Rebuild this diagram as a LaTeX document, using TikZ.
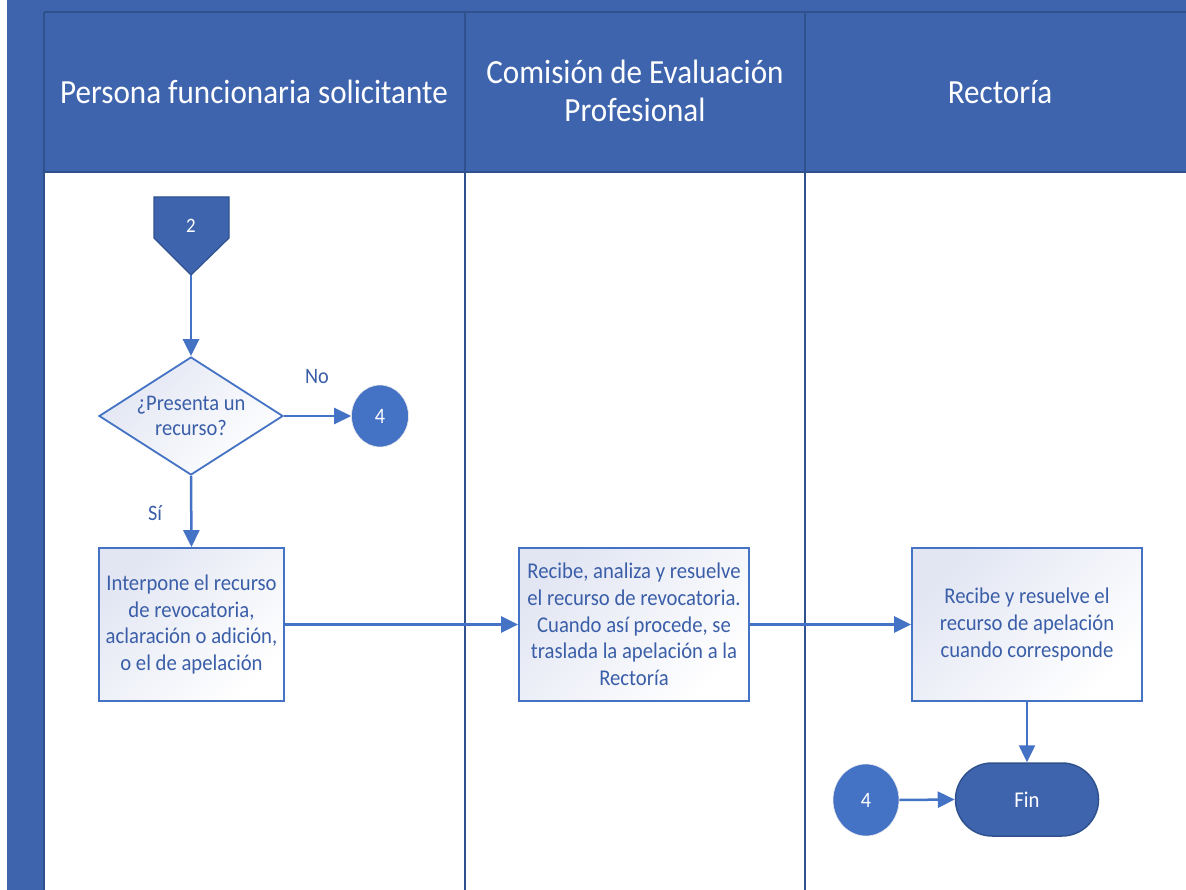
\documentclass[tikz,border=0pt]{standalone}
\usepackage{fontspec}
\setmainfont{Carlito}[FakeStretch=0.92]
\usetikzlibrary{shapes.geometric,shapes.misc,arrows.meta}
\definecolor{hdr}{HTML}{3F64AE}
\definecolor{hdrline}{HTML}{2F528F}
\definecolor{acc}{HTML}{4472C4}
\definecolor{txt}{HTML}{3A5EA8}
\definecolor{boxfill}{HTML}{E2E6F3}
\begin{document}
\begin{tikzpicture}[x=1pt,y=-1pt,
  conn/.style={draw=acc, line width=2.5pt, -{Triangle[length=17pt,width=16pt]}},
  laneline/.style={draw=hdrline, line width=1.8pt},
  hdrtext/.style={text=white, font=\fontsize{33.8}{38}\selectfont, align=center},
  gfill/.style={top color=boxfill, bottom color=white, shading angle=45},
  procbox/.style={draw=acc, line width=1.8pt, gfill,
    align=center, text=txt, font=\fontsize{22.5}{26.7}\selectfont, inner sep=0pt, minimum height=153pt},
  decision/.style={diamond, draw=acc, line width=1.8pt, gfill,
    align=center, text=txt, font=\fontsize{22.3}{24.5}\selectfont, inner sep=0pt, aspect=1.56,
    minimum width=184pt, minimum height=118pt},
  connector/.style={ellipse, fill=acc, draw=white!85!gray, line width=0.6pt, inner sep=0pt, text=white, font=\fontsize{22}{24}\selectfont},
  terminal/.style={rounded rectangle, fill=hdr, draw=hdrline, line width=1.5pt, inner sep=0pt,
    minimum width=143pt, minimum height=73pt, text=white, font=\fontsize{22.5}{24}\selectfont},
  lbl/.style={text=txt, font=\fontsize{22}{24}\selectfont, inner sep=0pt}
]
\useasboundingbox (0,0) rectangle (1186,890);
% background pool
\fill[white] (0,0) rectangle (1186,890);
\fill[hdr] (7,0) rectangle (1186,890);
\fill[white] (44,172) rectangle (1186,890);
% pool lines
\draw[laneline] (44,12) -- (1186,12);
\draw[laneline] (44,172) -- (1186,172);
\draw[laneline] (44,12) -- (44,890);
\draw[laneline] (465,12) -- (465,890);
\draw[laneline] (805,12) -- (805,890);
% lane headers
\node[hdrtext] (h1) at (254,92) {Persona funcionaria solicitante};
\node[hdrtext] (h2) at (635,91) {Comisión de Evaluación\\Profesional};
\node[hdrtext] (h3) at (1000,92) {Rectoría};
% off-page connector 2
\draw[fill=hdr, draw=hdrline, line width=1.2pt] (154,197) -- (229,197) -- (229,238) -- (191,275) -- (154,238) -- cycle;
\node[text=white, font=\fontsize{20.5}{22}\selectfont] (op2) at (191,226) {2};
\coordinate (op2tip) at (191,275);
% nodes
\node[decision] (d1) at (191,416) {¿Presenta un\\recurso?};
\node[connector, minimum width=57pt, minimum height=62pt] (c4a) at (380,416) {4};
\node[procbox, minimum width=185pt] (b1) at (191.5,624.5) {Interpone el recurso\\de revocatoria,\\aclaración o adición,\\o el de apelación};
\node[procbox, minimum width=230pt] (b2) at (634,624.5) {Recibe, analiza y resuelve\\el recurso de revocatoria.\\Cuando así procede, se\\traslada la apelación a la\\Rectoría};
\node[procbox, minimum width=230pt] (b3) at (1027,624.5) {Recibe y resuelve el\\recurso de apelación\\cuando corresponde};
\node[terminal] (fin) at (1027,799.5) {Fin};
\node[connector, minimum width=66pt, minimum height=72pt] (c4b) at (866,800) {4};
% labels
\node[lbl] (lno) at (317,377) {No};
\node[lbl] (lsi) at (155,513) {Sí};
% connectors
\draw[conn] (op2tip) -- (d1.north);
\draw[conn] (d1.east) -- (c4a.west);
\draw[conn] (d1.south) -- (b1.north);
\draw[conn] (b1.east) -- (b2.west);
\draw[conn] (b2.east) -- (b3.west);
\draw[conn] (b3.south) -- (fin.north);
\draw[conn] (c4b.east) -- (fin.west);
\end{tikzpicture}
\end{document}
